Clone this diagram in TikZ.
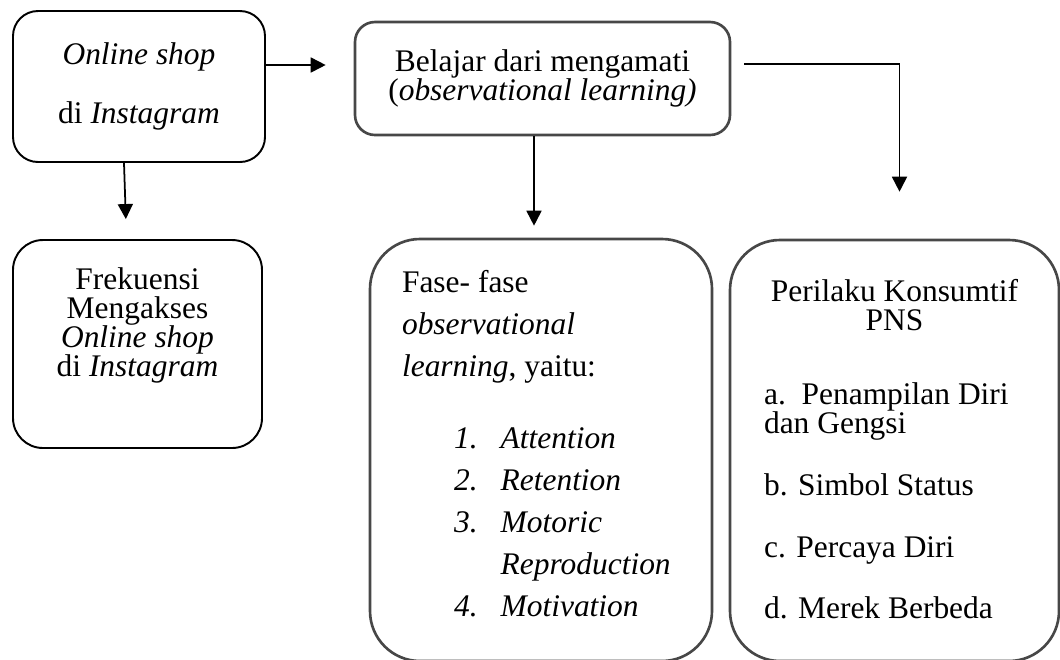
\documentclass[tikz,border=0pt]{standalone}
\usepackage{fontspec}
\setmainfont{Liberation Serif}
\usetikzlibrary{positioning,arrows.meta}

\begin{document}
\begin{tikzpicture}[
    >={Triangle[width=3mm,length=3mm]},
    every node/.style={font=\fontsize{17.9}{16.5}\selectfont},
    box/.style={draw, line width=1.1pt, inner sep=0pt, align=center},
    graybox/.style={draw=black!72, line width=1.5pt, inner sep=0pt, align=center},
    txt/.style={inner sep=0pt},
    arr/.style={->, line width=1pt}
]
    % Page frame, the lower boxes run past it
    \path[use as bounding box, clip] (0,0) rectangle (21.2,-13.18);

    % Top row
    \node[box, rounded corners=0.5cm, minimum width=5.04cm, minimum height=3.02cm] (online) at (2.78,-1.73)
        {\textit{Online shop}\\[17pt] di \textit{Instagram}};
    \node[graybox, rounded corners=0.4cm, minimum width=7.5cm, minimum height=2.26cm] (obs) at (10.85,-1.57)
        {Belajar dari mengamati\\ (\textit{observational learning)}};

    % Lower boxes
    \node[box, rounded corners=0.6cm, minimum width=4.98cm, minimum height=4.16cm] (frek) at (2.75,-6.88) {};
    \node[graybox, rounded corners=1cm, minimum width=6.84cm, minimum height=8.44cm] (fase) at (10.82,-9.0) {};
    \node[graybox, rounded corners=1cm, minimum width=6.58cm, minimum height=8.42cm] (perilaku) at (17.89,-9.01) {};

    % Texts in the lower boxes
    \node[txt, align=center, below=5.7mm of frek.north] (frektext)
        {Frekuensi\\ Mengakses\\ \textit{Online shop}\\ di \textit{Instagram}};
    \node[txt, align=left, font=\fontsize{17.9}{23.9}\selectfont,
          below right=6.5mm and 6.6mm of fase.north west] (fasetext)
        {Fase- fase\\ \textit{observational}\\ \textit{learning}, yaitu:};
    \node[txt, font=\fontsize{17.9}{23.9}\selectfont,
          below right=36.3mm and 17mm of fase.north west] (fasestep)
        {\begin{tabular}{@{}l@{\hspace{4.6mm}}l@{}}
            \textit{1.} & \textit{Attention}\\
            \textit{2.} & \textit{Retention}\\
            \textit{3.} & \textit{Motoric}\\
                        & \textit{Reproduction}\\
            \textit{4.} & \textit{Motivation}
         \end{tabular}};
    \node[txt, align=center, below=8.1mm of perilaku.north] (perilakutext)
        {Perilaku Konsumtif\\ PNS};
    \node[txt, align=left, below right=28.7mm and 7mm of perilaku.north west] (perilakulist)
        {a.\ \ Penampilan Diri\\ dan Gengsi\\[18.7pt]
         b. Simbol Status\\[18.7pt]
         c. Percaya Diri\\[18.7pt]
         d. Merek Berbeda};

    % Arrows
    \coordinate (oa) at ([yshift=4.3mm]online.east);
    \draw[arr, shorten >=5.6mm] (oa) -- (oa -| obs.west);
    \draw[arr, shorten >=4mm] ([xshift=-3mm]online.south) -- ([xshift=-2.2mm]frek.north);
    \coordinate (ob) at ([xshift=-1.7mm]obs.south);
    \draw[arr, shorten >=2.4mm] (ob) -- (ob |- fase.north);
    \coordinate (oc) at ([xshift=2.6mm,yshift=2.9mm]obs.east);
    \draw[arr, shorten >=9.4mm] (oc) -| ([xshift=1mm]perilaku.north);
\end{tikzpicture}
\end{document}
